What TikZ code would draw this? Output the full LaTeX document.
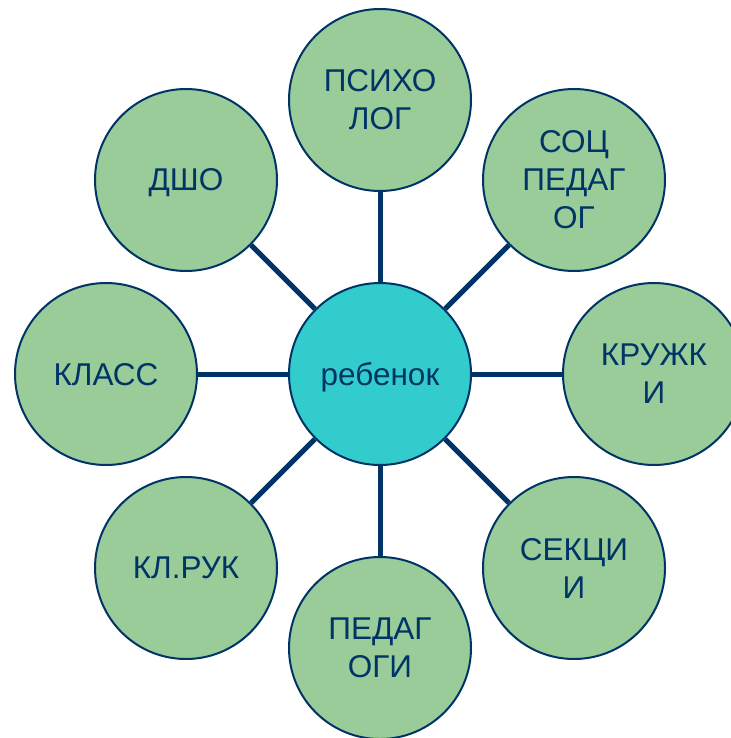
\documentclass[tikz,border=0pt]{standalone}
\usepackage{fontspec}
\setmainfont{Liberation Sans}
\usetikzlibrary{positioning}
\definecolor{darkblue}{RGB}{0,51,102}
\definecolor{leafgreen}{RGB}{153,204,153}
\definecolor{centercyan}{RGB}{51,204,204}

\begin{document}
\begin{tikzpicture}[x=1pt,y=-1pt,
    bubble/.style={circle, draw=darkblue, line width=2pt, fill=leafgreen,
      minimum size=182pt, inner sep=0pt, align=center, text=darkblue,
      text depth=0pt, font=\fontsize{31.5}{38}\selectfont},
    hub/.style={bubble, fill=centercyan},
    spoke/.style={draw=darkblue, line width=5pt}]
    \useasboundingbox (0,0) rectangle (730,738);

    \node[hub] (child) at (380,374) {ребенок};

    \node[bubble] (psych) at (380,100) {ПСИХО\\ЛОГ};
    \node[bubble] (social) at (574,180) {СОЦ\\ПЕДАГ\\ОГ};
    \node[bubble] (clubs) at (654,374) {КРУЖК\\И};
    \node[bubble] (sections) at (574,568) {СЕКЦИ\\И};
    \node[bubble] (teachers) at (380,648) {ПЕДАГ\\ОГИ};
    \node[bubble] (tutor) at (186,568) {КЛ.РУК};
    \node[bubble] (class) at (106,374) {КЛАСС};
    \node[bubble] (dsho) at (186,180) {ДШО};

    \foreach \n in {psych,social,clubs,sections,teachers,tutor,class,dsho}
      \draw[spoke] (child) -- (\n);

  \end{tikzpicture}
\end{document}
